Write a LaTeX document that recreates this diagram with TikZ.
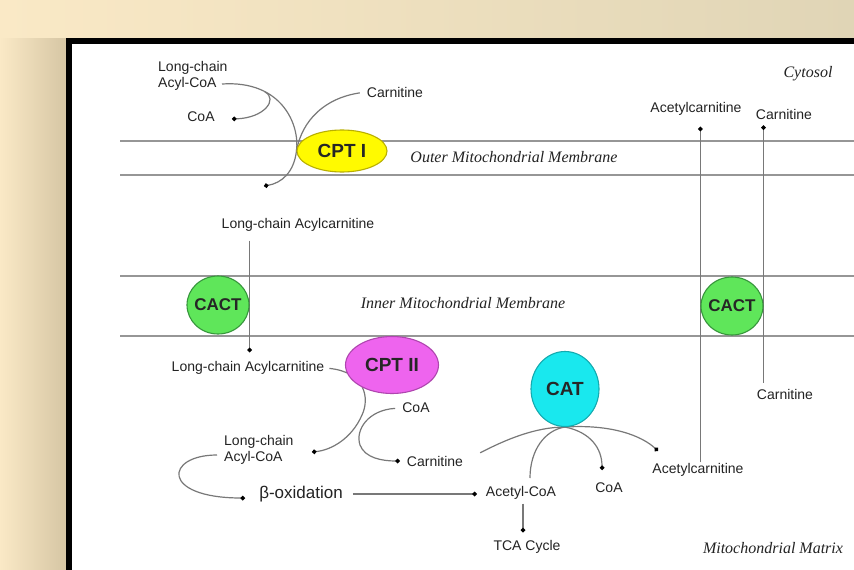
\documentclass[tikz,border=0pt]{standalone}
\usepackage{fontspec}
\setmainfont{Liberation Sans}
\newfontfamily\membranefont{Liberation Serif}
\usetikzlibrary{arrows.meta,shapes.geometric,calc}

\definecolor{bgpeach}{RGB}{250,233,198}
\definecolor{bgbeige}{RGB}{224,213,182}
\definecolor{bgedge}{RGB}{214,198,164}
\definecolor{memgray}{RGB}{150,150,150}
\definecolor{linegray}{RGB}{120,120,120}
\definecolor{textdark}{RGB}{35,35,35}
\definecolor{cptone}{RGB}{255,250,0}
\definecolor{cptoneline}{RGB}{185,175,0}
\definecolor{cactfill}{RGB}{95,230,90}
\definecolor{cactline}{RGB}{55,150,60}
\definecolor{cpttwo}{RGB}{238,100,238}
\definecolor{cpttwoline}{RGB}{175,70,175}
\definecolor{catfill}{RGB}{25,232,238}
\definecolor{catline}{RGB}{20,170,175}

\pgfdeclarelayer{back}
\pgfdeclarelayer{links}
\pgfsetlayers{back,links,main}

\tikzset{
  enzyme/.style={ellipse, line width=1.1pt, inner sep=-3pt, text=black!85, font=\fontsize{19}{21}\selectfont\bfseries},
  chem/.style={inner sep=1pt, text=textdark, font=\fontsize{14}{16}\selectfont},
  region/.style={inner sep=1pt, text=textdark, font=\fontsize{16}{18}\selectfont\membranefont\itshape},
  flow/.style={draw=linegray, line width=1.2pt},
  flowdot/.style={flow, -{Circle[length=4.5pt, color=black]}},
  membrane/.style={draw=memgray, line width=2pt},
}

\begin{document}
\begin{tikzpicture}[x=1pt, y=-1pt]
		%%%%% START %%%%%
		\useasboundingbox (0,0) rectangle (854,570);
		
		\begin{pgfonlayer}{back}
		\shade[left color=bgpeach, right color=bgbeige] (0,0) rectangle (854,570);
		\shade[left color=bgpeach, right color=bgedge] (0,38) rectangle (66,570);
		\fill[black] (66,38) rectangle (854,570);
		\fill[white] (72,44) rectangle (854,570);
		
		% membranes
		\draw[membrane] (120,140.5) -- (854,140.5);
		\draw[membrane] (120,174.5) -- (854,174.5);
		\draw[membrane] (120,275.5) -- (854,275.5);
		\draw[membrane] (120,336) -- (854,336);
		\end{pgfonlayer}
		
		% enzymes
		\node[enzyme, draw=cptoneline, fill=cptone, minimum width=90, minimum height=42] (cpt1) at (342,151) {CPT I};
		\node[enzyme, draw=cactline, fill=cactfill, minimum width=62, minimum height=58, font=\fontsize{17}{19}\selectfont\bfseries] (cact1) at (218,305) {CACT};
		\node[enzyme, draw=cactline, fill=cactfill, minimum width=62, minimum height=58, font=\fontsize{17}{19}\selectfont\bfseries] (cact2) at (732,306) {CACT};
		\node[enzyme, draw=cpttwoline, fill=cpttwo, minimum width=93, minimum height=57] (cpt2) at (392,365) {CPT II};
		\node[enzyme, draw=catline, fill=catfill, minimum width=68, minimum height=75] (cat) at (565,389) {CAT};
		
		% compartments
		\node[region] (cytosol) at (808,74) {Cytosol};
		\node[region] (omm) at (514,157) {Outer Mitochondrial Membrane};
		\node[region] (imm) at (463,303) {Inner Mitochondrial Membrane};
		\node[region] (matrix) at (773,548) {Mitochondrial Matrix};
		
		% metabolites
		\node[chem, align=left, anchor=west] (lcacoa1) at (157,76) {Long-chain\\Acyl-CoA};
		\node[chem] (coa1) at (201,117) {CoA};
		\node[chem] (carn1) at (395,92) {Carnitine};
		\node[chem] (lcacar1) at (298,225) {Long-chain Acylcarnitine};
		\node[chem] (lcacar2) at (248,368) {Long-chain Acylcarnitine};
		\node[chem, align=left, anchor=west] (lcacoa2) at (223,450) {Long-chain\\Acyl-CoA};
		\node[chem] (coa2) at (416,408) {CoA};
		\node[chem] (carn2) at (435,461) {Carnitine};
		\node[chem, font=\fontsize{17}{19}\selectfont] (beta) at (301,494) {β-oxidation};
		\node[chem] (acoa) at (521,493) {Acetyl-CoA};
		\node[chem] (tca) at (527,547) {TCA Cycle};
		\node[chem] (coa3) at (609,488) {CoA};
		\node[chem] (acar1) at (698,470) {Acetylcarnitine};
		\node[chem] (acar2) at (696,109) {Acetylcarnitine};
		\node[chem] (carn3) at (784,114) {Carnitine};
		\node[chem] (carn4) at (785,394) {Carnitine};
		
		\coordinate (acyl1) at (222,84);
		\coordinate (acar1dot) at (264,186);
		\coordinate (coa1dot) at (232,119);
		\coordinate (acyl2dot) at (312,452);
		\coordinate (loop2) at (217,455);
		\coordinate (beta2dot) at (245,498);
		\coordinate (acoatop) at (530,478);
		\coordinate (coa3dot) at (602,470);
		\coordinate (acar3dot) at (658,451);
		
		\begin{pgfonlayer}{links}
		% CPT I
		\draw[flowdot] (acyl1) .. controls (282,80) and (300,125) .. (cpt1.west) .. controls (294,172) and (282,183) .. (acar1dot);
		\draw[flowdot] (265,92) .. controls (278,99) and (265,118) .. (coa1dot);
		\draw[flow, shorten <=6pt] (carn1.west) .. controls (325,98) and (302,120) .. (cpt1.west);
		
		% across the inner membrane
		\draw[flowdot, shorten <=8pt, shorten >=8pt] (lcacar1.south -| cact1.east) -- (lcacar2.north -| cact1.east);
		
		% CPT II
		\draw[flowdot, shorten <=4pt] (lcacar2.east) .. controls (365,372) and (370,398) .. (362,415) .. controls (352,438) and (332,450) .. (acyl2dot);
		\draw[flowdot, shorten <=6pt, shorten >=6pt] (coa2.west) .. controls (368,410) and (355,430) .. (360,445) .. controls (365,458) and (382,461) .. (carn2.west);
		
		% beta-oxidation
		\draw[flowdot] (loop2) .. controls (165,455) and (160,498) .. (beta2dot);
		\draw[flowdot, shorten <=9pt, shorten >=8pt] (beta.east) -- (beta.east -| acoa.west);
		\draw[flowdot, shorten <=3pt, shorten >=7pt] (acoa.south -| 523,0) -- (tca.north -| 523,0);
		
		% CAT
		\draw[flow, shorten <=18pt] (carn2.east) .. controls (505,440) and (535,427) .. (cat.south);
		\draw[flow] (acoatop) .. controls (530,450) and (545,430) .. (cat.south);
		\draw[flowdot] (cat.south) .. controls (590,432) and (602,448) .. (coa3dot);
		\draw[flowdot] (cat.south) .. controls (612,424) and (642,436) .. (acar3dot);
		
		% out to the cytosol
		\draw[flowdot, shorten >=10pt] (acar1.north -| cact2.west) -- (acar2.south -| cact2.west);
		\draw[flowdot, shorten <=5pt, shorten >=5pt] (carn4.north -| cact2.east) -- (carn3.south -| cact2.east);
		\end{pgfonlayer}
		
		%%%%% END %%%%%
\end{tikzpicture}
\end{document}
